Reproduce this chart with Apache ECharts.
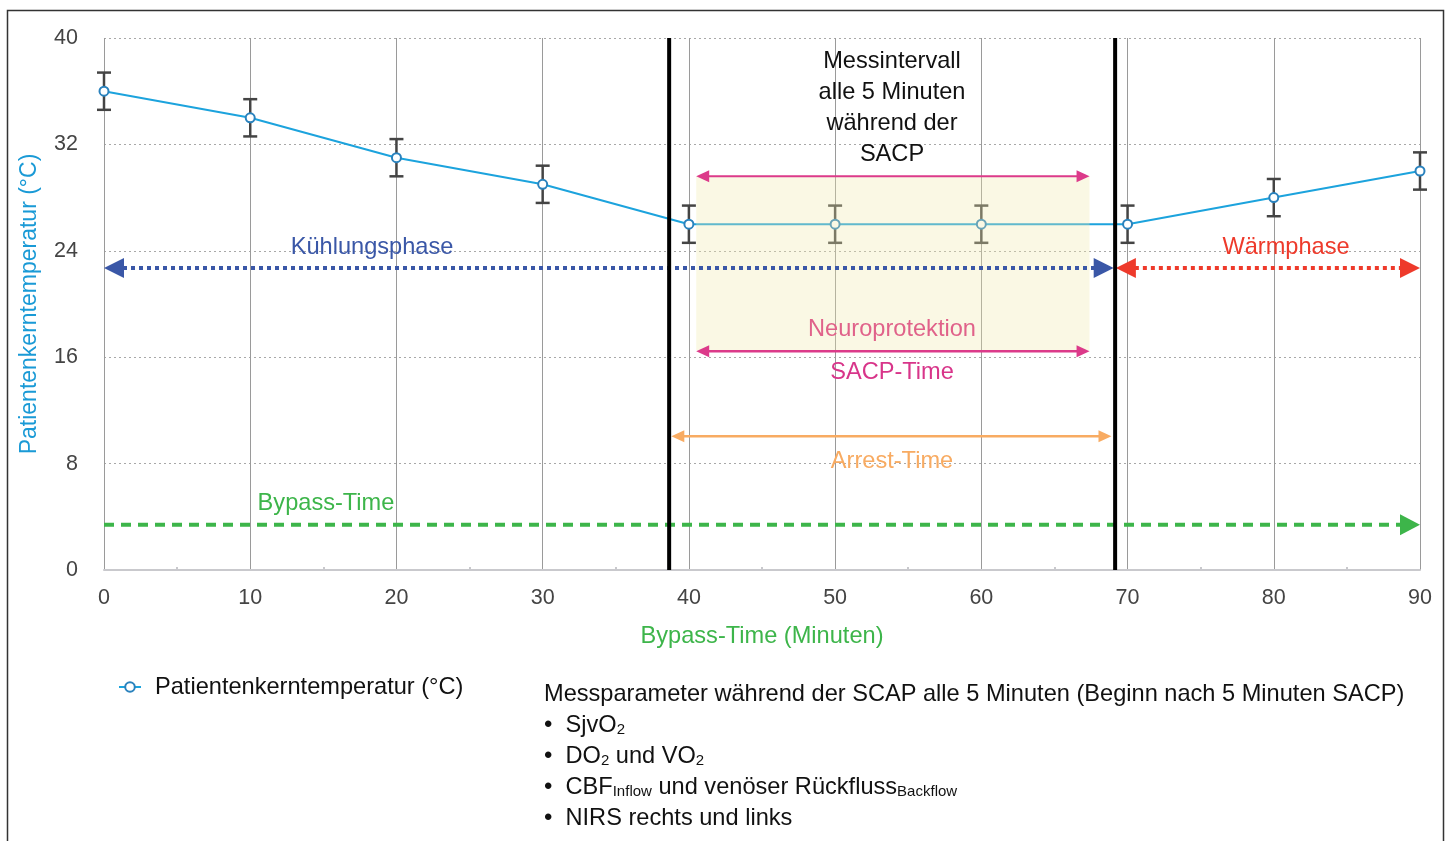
<!DOCTYPE html>
<html><head><meta charset="utf-8">
<script src="https://cdn.jsdelivr.net/npm/echarts@6/dist/echarts.min.js"></script>
<style>html,body{margin:0;padding:0;background:#fff}#c{width:1449px;height:841px}</style>
</head><body><div id="c"></div>
<script>
// ---- data ----
const minutes = [0, 10, 20, 30, 40, 50, 60, 70, 80, 90];
const temperature = [36, 34, 31, 29, 26, 26, 26, 26, 28, 30];
const tempError = [1.4, 1.4, 1.4, 1.4, 1.4, 1.4, 1.4, 1.4, 1.4, 1.4];
const clampLines = [38.65, 69.15];           // start / end of circulatory arrest (minutes)
const coolingPhase = [0, 69.05];
const warmingPhase = [69.2, 90];
const sacpTime = [40.5, 67.4];
const arrestTime = [38.8, 68.9];
const bypassTime = [0, 90];
const neuroBand = [16.5, 29.6];              // temperature band of SACP window
const xTicks = { min: 0, max: 90, interval: 10 };
const yTicks = { min: 0, max: 40, interval: 8 };
const seriesName = 'Patientenkerntemperatur (°C)';

const FONT = "'Liberation Sans', Arial, Helvetica, sans-serif";
const FS = 23.6;

function arrowSeries(name, range, yLevel, o) {
  return {
    type: 'custom', name: name, silent: true, clip: false, z: o.z || 6,
    data: [[range[0], range[1], yLevel]],
    encode: { x: [0, 1], y: 2 },
    renderItem: function (params, api) {
      const a = api.coord([api.value(0), api.value(2)]);
      const b = api.coord([api.value(1), api.value(2)]);
      const L = o.head, H = o.headW / 2, y = a[1];
      const x0 = o.left ? a[0] + L - 1 : a[0];
      const x1 = o.right ? b[0] - L + 1 : b[0];
      const ch = [{
        type: 'line', shape: { x1: x0, y1: y, x2: x1, y2: y },
        style: { stroke: o.color, lineWidth: o.width, lineDash: o.dash || null, lineCap: 'butt' }
      }];
      if (o.left) ch.push({ type: 'polygon', shape: { points: [[a[0], y], [a[0] + L, y - H], [a[0] + L, y + H]] }, style: { fill: o.color } });
      if (o.right) ch.push({ type: 'polygon', shape: { points: [[b[0], y], [b[0] - L, y - H], [b[0] - L, y + H]] }, style: { fill: o.color } });
      return { type: 'group', children: ch };
    }
  };
}

const chart = echarts.init(document.getElementById('c'), null, { renderer: 'canvas' });

const subStyle = { fontSize: 15, verticalAlign: 'middle', padding: [8, 0, 0, 0], fill: '#111', fontFamily: FONT };

const option = {
  backgroundColor: '#fff',
  animation: false,
  textStyle: { fontFamily: FONT },
  grid: { left: 104, right: 29, top: 38, bottom: 271, containLabel: false },
  legend: {
    data: [seriesName], left: 113, top: 670, itemWidth: 22, itemHeight: 12, itemGap: 10,
    textStyle: { fontSize: FS, color: '#111', fontFamily: FONT, padding: [0, 0, 0, 9] }
  },
  xAxis: {
    type: 'value', min: xTicks.min, max: xTicks.max, interval: xTicks.interval,
    name: 'Bypass-Time (Minuten)', nameLocation: 'middle', nameGap: 54,
    nameTextStyle: { fontSize: FS, color: '#3db54a', fontFamily: FONT },
    axisLine: { show: true, lineStyle: { color: '#c9c9cd', width: 2 } },
    axisTick: { show: false, inside: true },
    minorTick: { show: true, splitNumber: 2, length: 3, lineStyle: { color: '#c9c9cd', width: 2 } },
    axisLabel: { fontSize: 21.5, color: '#444', margin: 17, fontFamily: FONT },
    splitLine: { show: true, lineStyle: { color: '#9a9a9a', width: 1 } }
  },
  yAxis: {
    type: 'value', min: yTicks.min, max: yTicks.max, interval: yTicks.interval,
    name: seriesName, nameLocation: 'middle', nameGap: 63,
    nameTextStyle: { fontSize: 23, color: '#1a9ad6', fontFamily: FONT },
    axisLine: { show: false }, axisTick: { show: false },
    axisLabel: { fontSize: 21.5, color: '#444', margin: 26, fontFamily: FONT },
    splitLine: { show: true, lineStyle: { color: '#a8a8a8', width: 1, type: [2, 3] } }
  },
  series: [
    {
      type: 'custom', name: 'errorbars', silent: true, z: 3,
      data: minutes.map((m, i) => [m, temperature[i] - tempError[i], temperature[i] + tempError[i]]),
      encode: { x: 0, y: [1, 2] },
      renderItem: function (params, api) {
        const lo = api.coord([api.value(0), api.value(1)]);
        const hi = api.coord([api.value(0), api.value(2)]);
        const w = 7, st = { stroke: '#444', lineWidth: 2.5 };
        return {
          type: 'group', children: [
            { type: 'line', shape: { x1: lo[0], y1: lo[1], x2: hi[0], y2: hi[1] }, style: st },
            { type: 'line', shape: { x1: lo[0] - w, y1: lo[1], x2: lo[0] + w, y2: lo[1] }, style: st },
            { type: 'line', shape: { x1: hi[0] - w, y1: hi[1], x2: hi[0] + w, y2: hi[1] }, style: st }
          ]
        };
      }
    },
    {
      type: 'line', name: seriesName, z: 4,
      data: minutes.map((m, i) => [m, temperature[i]]),
      symbol: 'emptyCircle', symbolSize: 9,
      lineStyle: { color: '#1ca3dd', width: 2 },
      itemStyle: { color: '#2a82bd', borderWidth: 2 }
    },
    {
      type: 'custom', name: 'neuro', silent: true, z: 5,
      data: [[sacpTime[0], sacpTime[1], neuroBand[0], neuroBand[1]]],
      encode: { x: [0, 1], y: [2, 3] },
      renderItem: function (params, api) {
        const p0 = api.coord([api.value(0), api.value(3)]);
        const p1 = api.coord([api.value(1), api.value(2)]);
        return { type: 'rect', shape: { x: p0[0], y: p0[1], width: p1[0] - p0[0], height: p1[1] - p0[1] },
          style: { fill: 'rgba(240,232,170,0.32)' } };
      }
    },
    {
      type: 'custom', name: 'clamp', silent: true, z: 7,
      data: clampLines.map(x => [x, yTicks.min, yTicks.max]),
      encode: { x: 0, y: [1, 2] },
      renderItem: function (params, api) {
        const a = api.coord([api.value(0), api.value(1)]);
        const b = api.coord([api.value(0), api.value(2)]);
        return { type: 'line', shape: { x1: a[0], y1: a[1], x2: b[0], y2: b[1] }, style: { stroke: '#000', lineWidth: 4 } };
      }
    },
    arrowSeries('cool', coolingPhase, 22.7, { color: '#3a57a7', width: 4, dash: [4, 4], head: 20, headW: 20, left: true, right: true }),
    arrowSeries('warm', warmingPhase, 22.7, { color: '#ee3a2b', width: 4, dash: [4, 4], head: 20, headW: 20, left: true, right: true }),
    arrowSeries('sacpTop', sacpTime, 29.6, { color: '#dc3a8a', width: 2, head: 13, headW: 12, left: true, right: true }),
    arrowSeries('sacpBottom', sacpTime, 16.45, { color: '#dc3a8a', width: 2.5, head: 13, headW: 12, left: true, right: true }),
    arrowSeries('arrest', arrestTime, 10.05, { color: '#f8ab62', width: 2.5, head: 13, headW: 12, left: true, right: true }),
    arrowSeries('bypass', bypassTime, 3.4, { color: '#3db54a', width: 4, dash: [10, 7], head: 20, headW: 21, left: false, right: true })
  ],
  graphic: [
    { type: 'rect', silent: true, shape: { x: 7.5, y: 10.5, width: 1436, height: 850 }, style: { fill: null, stroke: '#333', lineWidth: 1.5 }, z: 100 },
    { type: 'text', x: 892, y: 46, style: { text: 'Messintervall\nalle 5 Minuten\nwährend der\nSACP', fill: '#111', fontSize: FS, lineHeight: 31, fontFamily: FONT, align: 'center', verticalAlign: 'top' }, z: 100 },
    { type: 'text', x: 372, y: 247, style: { text: 'Kühlungsphase', fill: '#3a57a7', fontSize: FS, fontFamily: FONT, align: 'center', verticalAlign: 'middle' }, z: 100 },
    { type: 'text', x: 1286, y: 247, style: { text: 'Wärmphase', fill: '#ee3a2b', fontSize: FS, fontFamily: FONT, align: 'center', verticalAlign: 'middle' }, z: 100 },
    { type: 'text', x: 892, y: 329, style: { text: 'Neuroprotektion', fill: '#e0628a', fontSize: FS, fontFamily: FONT, align: 'center', verticalAlign: 'middle' }, z: 100 },
    { type: 'text', x: 892, y: 372, style: { text: 'SACP-Time', fill: '#d8358a', fontSize: FS, fontFamily: FONT, align: 'center', verticalAlign: 'middle' }, z: 100 },
    { type: 'text', x: 892, y: 461, style: { text: 'Arrest-Time', fill: '#f8ab62', fontSize: FS, fontFamily: FONT, align: 'center', verticalAlign: 'middle' }, z: 100 },
    { type: 'text', x: 326, y: 503, style: { text: 'Bypass-Time', fill: '#3db54a', fontSize: FS, fontFamily: FONT, align: 'center', verticalAlign: 'middle' }, z: 100 },
    { type: 'text', x: 544, y: 679, z: 100, style: {
        text: 'Messparameter während der SCAP alle 5 Minuten (Beginn nach 5 Minuten SACP)\n' +
              '{b|•}  SjvO{s|2}\n' +
              '{b|•}  DO{s|2} und VO{s|2}\n' +
              '{b|•}  CBF{s|Inflow} und venöser Rückfluss{s|Backflow}\n' +
              '{b|•}  NIRS rechts und links',
        fill: '#111', fontSize: FS, lineHeight: 31, fontFamily: FONT, align: 'left', verticalAlign: 'top',
        rich: {
          b: { fontSize: 24, fill: '#111', fontFamily: FONT },
          s: subStyle
        }
      }
    }
  ]
};
chart.setOption(option);
</script>
</body></html>
